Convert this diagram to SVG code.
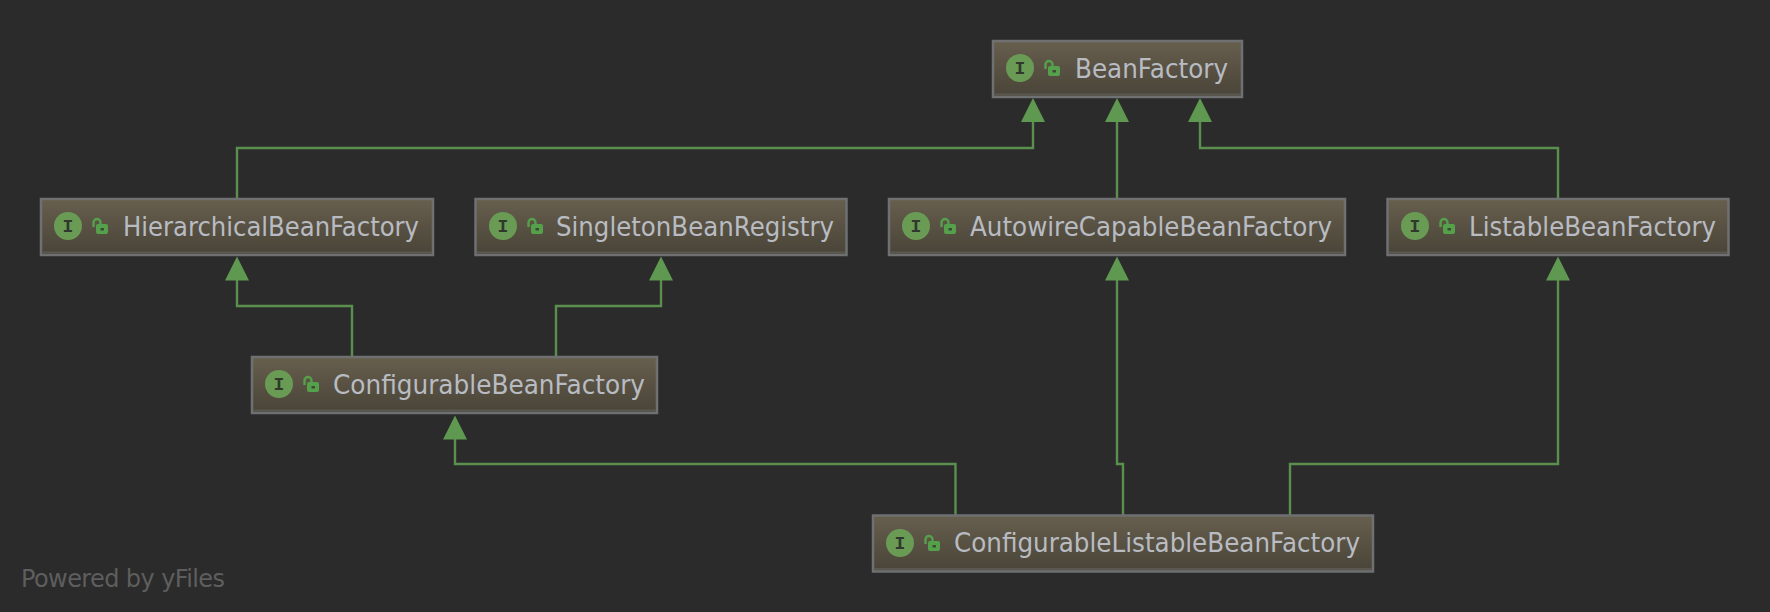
<svg xmlns="http://www.w3.org/2000/svg" width="1770" height="612" viewBox="0 0 1770 612">
<style>
.box{fill:url(#g);stroke:#6f7071;stroke-width:2.5}
.base{fill:none;stroke:#5a5850;stroke-width:2}
.lbl{font-family:"DejaVu Sans","Liberation Sans",sans-serif;font-size:26px;fill:#b8bcc2}
.c{fill:none;stroke:#5b8f4e;stroke-width:2.4}
.ah{fill:#5f9850}
.ic{fill:#699b55}
.I{font-family:"Liberation Mono",monospace;font-size:18px;font-weight:bold;fill:#30382d;text-anchor:middle}
.lk{fill:#55a04a}
.ks{fill:none;stroke:#55a04a;stroke-width:2.4}
.wm{font-family:"DejaVu Sans","Liberation Sans",sans-serif;font-size:24px;fill:#5e5e5e}
</style>
<defs>
<linearGradient id="g" x1="0" y1="0" x2="0" y2="1"><stop offset="0" stop-color="#675f4e"/><stop offset="1" stop-color="#494438"/></linearGradient>
<g id="icon">
<circle class="ic" cx="28" cy="28" r="14"/>
<text class="I" x="28" y="33.500">I</text>
<path class="ks" d="M53.500 29V24.500a3.500 3.500 0 0 1 7 0V26"/>
<rect class="lk" x="56" y="26" width="12" height="10" rx="2"/>
<rect x="60.500" y="30" width="3.500" height="2.500" fill="#3e4a32"/>
</g>
</defs>
<rect width="1770" height="612" fill="#2b2b2b"/>
<g id="connectors">
<path class="c" d="M237 198V148H1033V120"/>
<path class="c" d="M1117 198V120"/>
<path class="c" d="M1558 198V148H1200V120"/>
<path class="c" d="M352 357V306H237V278"/>
<path class="c" d="M556 357V306H661V278"/>
<path class="c" d="M955.500 515V464H455V437"/>
<path class="c" d="M1123 515V464H1117V278"/>
<path class="c" d="M1290 515V464H1558V278"/>
<path class="ah" d="M1033 98l12 24h-24z"/>
<path class="ah" d="M1117 98l12 24h-24z"/>
<path class="ah" d="M1200 98l12 24h-24z"/>
<path class="ah" d="M237 256.500l12 24h-24z"/>
<path class="ah" d="M661 256.500l12 24h-24z"/>
<path class="ah" d="M1117 256.500l12 24h-24z"/>
<path class="ah" d="M1558 256.500l12 24h-24z"/>
<path class="ah" d="M455 415.500l12 24h-24z"/>
</g>
<g id="BeanFactory"><rect class="box" x="993" y="41" width="249" height="56"/><path class="base" d="M994 94.500H1241"/><use href="#icon" x="992" y="40"/><text class="lbl" x="1075" y="78" textLength="153" lengthAdjust="spacingAndGlyphs">BeanFactory</text></g>
<g id="HierarchicalBeanFactory"><rect class="box" x="41" y="199" width="392" height="56"/><path class="base" d="M42 252.500H432"/><use href="#icon" x="40" y="198"/><text class="lbl" x="123" y="236" textLength="296" lengthAdjust="spacingAndGlyphs">HierarchicalBeanFactory</text></g>
<g id="SingletonBeanRegistry"><rect class="box" x="475.500" y="199" width="371" height="56"/><path class="base" d="M477 252.500H845"/><use href="#icon" x="475" y="198"/><text class="lbl" x="556" y="236" textLength="278" lengthAdjust="spacingAndGlyphs">SingletonBeanRegistry</text></g>
<g id="AutowireCapableBeanFactory"><rect class="box" x="889" y="199" width="456" height="56"/><path class="base" d="M890 252.500H1344"/><use href="#icon" x="888" y="198"/><text class="lbl" x="970" y="236" textLength="362" lengthAdjust="spacingAndGlyphs">AutowireCapableBeanFactory</text></g>
<g id="ListableBeanFactory"><rect class="box" x="1387.500" y="199" width="341" height="56"/><path class="base" d="M1389 252.500H1727"/><use href="#icon" x="1387" y="198"/><text class="lbl" x="1469" y="236" textLength="247" lengthAdjust="spacingAndGlyphs">ListableBeanFactory</text></g>
<g id="ConfigurableBeanFactory"><rect class="box" x="252" y="357" width="405" height="56"/><path class="base" d="M253 410.500H656"/><use href="#icon" x="251" y="356"/><text class="lbl" x="333" y="394" textLength="312" lengthAdjust="spacingAndGlyphs">ConfigurableBeanFactory</text></g>
<g id="ConfigurableListableBeanFactory"><rect class="box" x="873" y="515.500" width="500" height="56"/><path class="base" d="M874 569H1372"/><use href="#icon" x="872" y="515"/><text class="lbl" x="954" y="552" textLength="406" lengthAdjust="spacingAndGlyphs">ConfigurableListableBeanFactory</text></g>
<text class="wm" x="21" y="587" textLength="204" lengthAdjust="spacing">Powered by yFiles</text>
</svg>
